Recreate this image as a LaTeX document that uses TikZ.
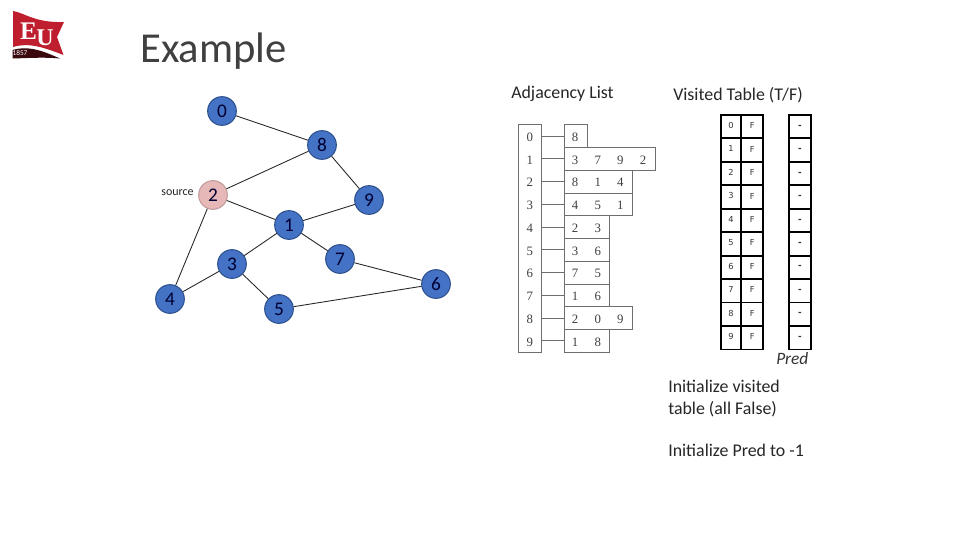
\documentclass[tikz,border=0pt]{standalone}
\usepackage{fontspec}
\setmainfont{Carlito}
\newfontfamily\serifnum{Liberation Serif}
\newfontfamily\sansnum{DejaVu Sans}
\definecolor{nodeblue}{RGB}{68,114,196}
\definecolor{nodeedge}{RGB}{47,82,143}
\definecolor{srcpink}{RGB}{230,184,183}
\definecolor{listgray}{RGB}{110,110,110}
\definecolor{eured}{RGB}{190,30,45}
\tikzset{
  x=0.75pt,y=-0.75pt,
  vtx/.style={circle,draw=nodeedge,fill=nodeblue,line width=0.8pt,minimum size=21.5pt,inner sep=0pt,font=\fontsize{14.5pt}{16pt}\selectfont,text=black!80!blue},
  src/.style={vtx,fill=srcpink,draw=srcpink!85!black},
  edge/.style={draw=black!85,line width=0.65pt},
  label/.style={inner sep=0pt,font=\fontsize{13.4pt}{16.5pt}\selectfont,text=black!85,align=left},
  hcell/.style={minimum width=17.25pt,minimum height=17.06pt,inner sep=0pt,font=\serifnum\fontsize{9.6pt}{12pt}\selectfont,text=black!75},
  conn/.style={draw=listgray,line width=0.6pt},
  tcell/.style={draw=black,line width=1.4pt,minimum height=17.6pt,inner sep=0pt,anchor=north west,font=\sansnum\fontsize{6.2pt}{7pt}\selectfont,text=black!80},
}
\begin{document}
\begin{tikzpicture}
\useasboundingbox (0,0) rectangle (960,540);
\fill[white] (0,0) rectangle (960,540);
% logo
\fill[eured] (13,11) .. controls (25,13) and (35,23) .. (64,22) -- (57,37) -- (63.5,55) .. controls (45,48) and (30,42) .. (13,47) -- cycle;
\fill[black!70!eured] (12.5,50) .. controls (30,45) and (45,52) .. (60,58.5) .. controls (45,57) and (30,58) .. (12.5,58.5) -- cycle;
\node[inner sep=0pt,text=white,font=\serifnum\bfseries\fontsize{19pt}{19pt}\selectfont] (logoe) at (28.5,31) {E};
\node[inner sep=0pt,text=white,font=\serifnum\bfseries\fontsize{18pt}{18pt}\selectfont] (logou) at (45,38) {U};
\node[inner sep=0pt,text=white,font=\fontsize{5.5pt}{6pt}\selectfont] (year) at (20,53.5) {1857};
% title
\node[anchor=base west,inner sep=0pt,font=\fontsize{32pt}{38pt}\selectfont,text=black!75] (title) at (140,62) {Example};
% graph
\node[vtx] (n0) at (222,111) {0};
\node[vtx] (n8) at (322,145) {8};
\node[src] (n2) at (213,195) {2};
\node[vtx] (n9) at (369,200) {9};
\node[vtx] (n1) at (289,225) {1};
\node[vtx] (n7) at (340,259) {7};
\node[vtx] (n3) at (232,264) {3};
\node[vtx] (n6) at (436,284) {6};
\node[vtx] (n4) at (170,299) {4};
\node[vtx] (n5) at (279,309) {5};
\foreach \a/\b in {n0/n8,n8/n2,n8/n9,n2/n1,n2/n4,n1/n9,n1/n7,n1/n3,n3/n4,n3/n5,n7/n6,n5/n6}
  \draw[edge] (\a) -- (\b);
\node[inner sep=0pt,font=\fontsize{9pt}{11pt}\selectfont,text=black!85] (srclabel) at (177.5,193) {source};
% headings
\node[label,anchor=base west] (adj) at (511,98) {Adjacency List};
\node[label,anchor=base west] (vis) at (673,100) {Visited Table (T/F)};
% adjacency list
\node[draw=listgray,line width=0.6pt,minimum width=17.25pt,minimum height=170.6pt,inner sep=0pt,anchor=north west] (hdr) at (518.3,124.3) {};
\foreach \i in {0,...,9}
  \node[hcell] (h\i) at (529.8,{137.2+22.75*\i}) {\i};
\foreach \r/\n/\lst in {0/1/{8},1/4/{3,7,9,2},2/3/{8,1,4},3/3/{4,5,1},4/2/{2,3},5/2/{3,6},6/2/{7,5},7/2/{1,6},8/3/{2,0,9},9/2/{1,8}}{
  \node[draw=listgray,line width=0.6pt,minimum width={\n*17pt},minimum height=17.06pt,inner sep=0pt,anchor=north west] (row\r) at (564,{124.3+22.75*\r}) {};
  \foreach \v [count=\c from 0] in \lst
    \node[inner sep=0pt,font=\serifnum\fontsize{9.6pt}{12pt}\selectfont,text=black!75] (v\r-\c) at ({575+22.7*\c},{137.2+22.75*\r}) {\v};
  \draw[conn] (hdr.east |- row\r.west) -- (row\r.west);
}
% visited table
\foreach \i in {0,...,9}{
  \node[tcell,minimum width=15.2pt] (a\i) at (720,{114+23.45*\i}) {\raisebox{2pt}{\i}};
  \node[tcell,minimum width=16.5pt] (b\i) at (740.3,{114+23.45*\i}) {\raisebox{1.5pt}{F}};
  \node[tcell,minimum width=16pt,font=\sansnum\bfseries\fontsize{6.5pt}{7pt}\selectfont] (p\i) at (788.3,{114+23.45*\i}) {-};
}
\node[inner sep=0pt,anchor=base west,font=\itshape\fontsize{13pt}{15pt}\selectfont,text=black!80] (pred) at (776,364) {Pred};
% notes
\node[label,anchor=north west] (note1) at (668,379.5) {Initialize visited\\table (all False)};
\node[label,anchor=base west] (note2) at (668,456) {Initialize Pred to -1};
\end{tikzpicture}
\end{document}
